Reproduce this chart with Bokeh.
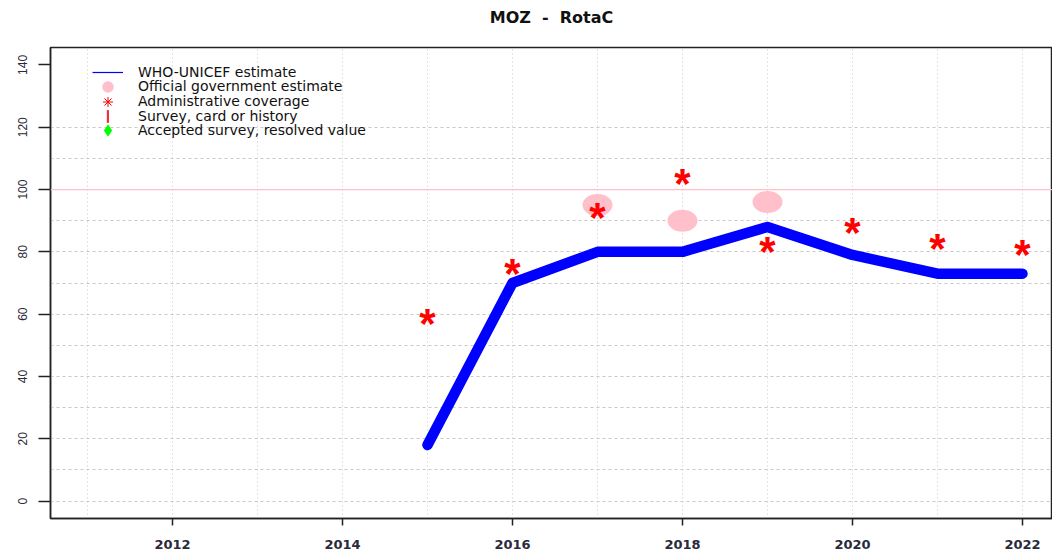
import numpy as np
from bokeh.plotting import figure
from bokeh.models import Range1d, FixedTicker, Span, Legend, LegendItem, Title
from bokeh.core.properties import value
from bokeh.embed import file_html
from bokeh.resources import INLINE

# ---- data ----
years = [2015, 2016, 2017, 2018, 2019, 2020, 2021, 2022]
wuenic = [18, 70, 80, 80, 88, 79, 73, 73]
admin = [59, 75, 93, 104, 82, 88, 83, 81]
gov_years = [2017, 2018, 2019]
gov = [95, 90, 96]
x_ticks = [2012, 2014, 2016, 2018, 2020, 2022]
y_ticks = [0, 20, 40, 60, 80, 100, 120, 140]
x_grid = list(range(2011, 2023))
y_grid = [0, 10, 20, 30, 40, 50, 60, 70, 80, 90, 110, 120]
title_text = "MOZ \u00a0-\u00a0 RotaC"
legend_labels = ["WHO-UNICEF estimate", "Official government estimate",
                 "Administrative coverage", "Survey, card or history",
                 "Accepted survey, resolved value"]

FRAME_H = 472
p = figure(width=1052, height=551, output_backend="svg", toolbar_location=None, title=None,
           x_range=Range1d(2010.565, 2022.353), y_range=Range1d(-5.6, 145.6),
           min_border_left=50, min_border_right=0, min_border_top=47, min_border_bottom=32)
p.background_fill_color = "white"
p.border_fill_color = "white"
p.outline_line_color = "#222222"
p.outline_line_width = 1.5

# spacer next to the frame, then the real title above it
p.add_layout(Title(text="\u00a0", text_font_size="1px", standoff=18), "above")
p.add_layout(Title(text=title_text, align="center", text_font="DejaVu Sans",
                   text_font_style="bold", text_font_size="16px", text_color="#111111",
                   standoff=0), "above")

# axes
p.xaxis.ticker = FixedTicker(ticks=x_ticks)
p.yaxis.ticker = FixedTicker(ticks=y_ticks)
for ax in (p.xaxis, p.yaxis):
    ax.axis_line_color = "#222222"
    ax.axis_line_width = 1.5
    ax.major_tick_in = 0
    ax.minor_tick_line_color = None
    ax.major_tick_line_color = "#222222"
    ax.major_tick_line_width = 1.5
    ax.major_label_text_color = "#2a2a3a"
p.xaxis.major_tick_out = 7
p.xaxis.major_label_standoff = 14
p.xaxis.major_label_text_font = "DejaVu Sans"
p.xaxis.major_label_text_font_style = "bold"
p.xaxis.major_label_text_font_size = "13px"
p.yaxis.major_tick_out = 12
p.yaxis.major_label_standoff = 11
p.yaxis.major_label_orientation = "vertical"
p.yaxis.major_label_text_font = "Liberation Sans"
p.yaxis.major_label_text_font_size = "12px"

# grids
p.xgrid.ticker = FixedTicker(ticks=x_grid)
p.xgrid.grid_line_color = "#c8c8c8"
p.xgrid.grid_line_dash = "1 3"
p.ygrid.ticker = FixedTicker(ticks=y_grid)
p.ygrid.grid_line_color = "#c8c8c8"
p.ygrid.grid_line_dash = "3 3"

p.add_layout(Span(location=100, dimension="width", line_color="#FFC0CB", line_width=1.2))

# data glyphs
p.line(years, wuenic, line_width=10.5, line_color="#0000FF", line_cap="round", line_join="round")
p.ellipse(x=gov_years, y=gov, width=30, height=22, width_units="screen", height_units="screen",
          fill_color="#FFC0CB", line_color=None)
p.text(x=years, y=admin, text=value("*"), text_font=value("Liberation Sans"),
       text_font_style="bold", text_font_size="42px", text_color="#FF0000",
       text_align="center", text_baseline="alphabetic", y_offset=6)

# legend proxies (no visible data)
nan = [float("nan")]
r1 = p.line(x=nan, y=nan, line_color="#0000FF", line_width=1.2)
r2 = p.scatter(x=nan, y=nan, marker="circle", size=12, fill_color="#FFC0CB", line_color=None)
r3 = p.scatter(x=nan, y=nan, marker="asterisk", size=10, line_color="#FF0000", line_width=1)
r4 = p.vbar(x=nan, top=nan, width=0.1, fill_color="#F03040", line_color=None)
r5 = p.scatter(x=nan, y=nan, marker="diamond", size=12, fill_color="#00FF00", line_color=None)

# (renderer, glyph_width, glyph_height, x offset, label_standoff, row centre from frame top)
specs = [(r1, 31, 28, 42, 15, 25.5),
         (r2, 31, 29, 42, 15, 40.0),
         (r3, 31, 25, 42, 15, 55.0),
         (r4, 3, 16, 56, 29, 69.5),
         (r5, 31, 32, 42, 15, 84.0)]
for label, (r, gw, gh, lx, ls, rc) in zip(legend_labels, specs):
    h = max(gh, 16)
    lg = Legend(items=[LegendItem(label=label, renderers=[r])],
                location=(lx, FRAME_H - rc - h / 2), padding=0, margin=0, spacing=0,
                border_line_color=None, background_fill_alpha=0,
                label_text_font="DejaVu Sans", label_text_font_size="14px",
                label_text_color="#111111",
                label_height=gh, glyph_height=gh, glyph_width=gw, label_standoff=ls)
    p.add_layout(lg)

open("out.html", "w").write(file_html(p, INLINE))
